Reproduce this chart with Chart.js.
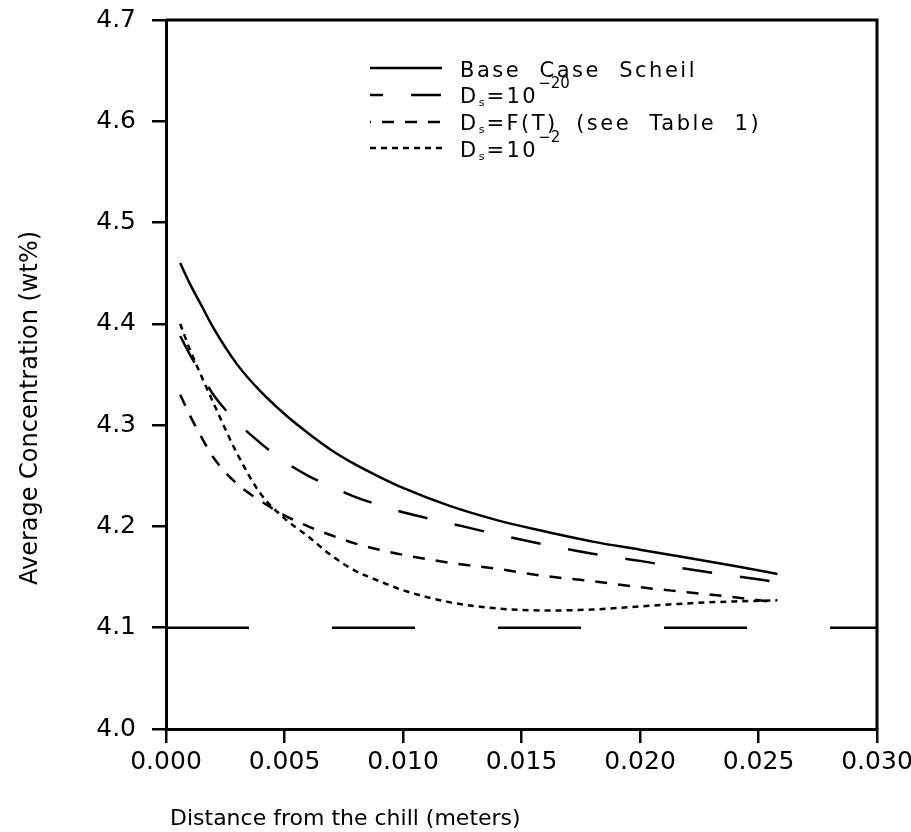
<!DOCTYPE html>
<html>
<head>
<meta charset="utf-8">
<title>Average Concentration vs Distance from the chill</title>
<script src="https://cdn.jsdelivr.net/npm/chart.js@4.4.1/dist/chart.umd.min.js"></script>
<style>
  html, body { margin: 0; padding: 0; background: #fff; }
  #chart { display: block; }
</style>
</head>
<body>
<canvas id="chart" width="911" height="832"></canvas>
<script>
// distance from the chill (meters)
const distance = [0.0006, 0.001, 0.0015, 0.002, 0.003, 0.004, 0.005, 0.006, 0.007, 0.008,
                  0.009, 0.010, 0.012, 0.014, 0.016, 0.018, 0.020, 0.022, 0.024, 0.0258];
// average concentration (wt%)
const baseCaseScheil = [4.460, 4.440, 4.418, 4.396, 4.360, 4.333, 4.311, 4.292, 4.275, 4.261,
                        4.249, 4.238, 4.220, 4.206, 4.195, 4.185, 4.177, 4.169, 4.161, 4.153];
const dsTenMinus20 = [4.388, 4.370, 4.350, 4.330, 4.303, 4.282, 4.264, 4.250, 4.239, 4.229,
                      4.221, 4.214, 4.203, 4.192, 4.182, 4.173, 4.166, 4.158, 4.151, 4.145];
const dsOfT = [4.330, 4.310, 4.288, 4.268, 4.242, 4.225, 4.211, 4.200, 4.191, 4.183,
               4.177, 4.172, 4.164, 4.158, 4.151, 4.146, 4.140, 4.135, 4.130, 4.125];
const dsTenMinus2 = [4.400, 4.375, 4.348, 4.322, 4.272, 4.232, 4.208, 4.190, 4.171, 4.156,
                     4.146, 4.137, 4.125, 4.119, 4.117, 4.118, 4.121, 4.124, 4.126, 4.127];
// nominal composition line
const nominalX = [0, 0.03];
const nominalY = [4.1, 4.1];

const xTickValues = [0, 0.005, 0.010, 0.015, 0.020, 0.025, 0.030];
const yTickValues = [4.0, 4.1, 4.2, 4.3, 4.4, 4.5, 4.6, 4.7];

const xTitle = 'Distance from the chill (meters)';
const yTitle = 'Average Concentration (wt%)';
// legend rows: pieces of text, 'sub' / 'sup' for small lowered / raised parts
const legendRows = [
  [{ t: 'Base  Case  Scheil' }],
  [{ t: 'D' }, { t: 's', sub: true }, { t: '=10' }, { t: '\u221220', sup: true }],
  [{ t: 'D' }, { t: 's', sub: true }, { t: '=F(T)  (see  Table  1)' }],
  [{ t: 'D' }, { t: 's', sub: true }, { t: '=10' }, { t: '\u22122', sup: true }]
];

const FONT = '"DejaVu Sans", "Liberation Sans", sans-serif';

function pts(xs, ys) {
  return xs.map((x, i) => ({ x: x, y: ys[i] }));
}

const seriesStyle = (dash) => ({
  borderColor: '#000',
  borderWidth: 2.5,
  borderDash: dash,
  pointRadius: 0,
  fill: false,
  cubicInterpolationMode: 'monotone'
});

const framePlugin = {
  id: 'frameAndText',
  afterDraw(chart) {
    const { ctx, chartArea: a } = chart;
    ctx.save();
    ctx.strokeStyle = '#000';
    ctx.lineWidth = 3;
    ctx.setLineDash([]);
    ctx.beginPath();
    ctx.moveTo(a.left, a.top);
    ctx.lineTo(a.right, a.top);
    ctx.lineTo(a.right, a.bottom);
    ctx.stroke();

    ctx.fillStyle = '#000';
    // x title
    ctx.font = '22px ' + FONT;
    ctx.textAlign = 'left';
    ctx.textBaseline = 'alphabetic';
    ctx.letterSpacing = '0px';
    ctx.fillText(xTitle, 170, 825);

    // y title
    ctx.save();
    ctx.font = '24px ' + FONT;
    ctx.translate(37, 408);
    ctx.rotate(-Math.PI / 2);
    ctx.textAlign = 'center';
    ctx.fillText(yTitle, 0, 0);
    ctx.restore();

    // legend
    const ds = chart.data.datasets;
    const rowLineY = [68, 95, 122, 148];
    const rowBase = [77, 103, 130, 157];
    const dashOffset = [0, 17, 11, 0];
    legendRows.forEach((row, i) => {
      ctx.save();
      ctx.lineWidth = 2.5;
      ctx.setLineDash(ds[i].borderDash || []);
      ctx.lineDashOffset = dashOffset[i];
      ctx.beginPath();
      ctx.moveTo(370, rowLineY[i]);
      ctx.lineTo(442, rowLineY[i]);
      ctx.stroke();
      ctx.restore();

      let x = 460;
      ctx.textAlign = 'left';
      row.forEach(p => {
        let size = 21, dy = 0;
        if (p.sub) { size = 11; dy = 3; }
        if (p.sup) { size = 15; dy = -15; }
        ctx.font = size + 'px ' + FONT;
        ctx.letterSpacing = p.sub || p.sup ? '0px' : '2.5px';
        ctx.fillText(p.t, x, rowBase[i] + dy);
        x += ctx.measureText(p.t).width + (p.sub ? 2 : 0);
      });
    });
    ctx.restore();
  }
};

new Chart(document.getElementById('chart'), {
  type: 'line',
  data: {
    datasets: [
      { label: 'Base Case Scheil', data: pts(distance, baseCaseScheil), ...seriesStyle([]) },
      { label: 'Ds=10^-20', data: pts(distance, dsTenMinus20), ...seriesStyle([30, 28]) },
      { label: 'Ds=F(T) (see Table 1)', data: pts(distance, dsOfT), ...seriesStyle([12, 11]) },
      { label: 'Ds=10^-2', data: pts(distance, dsTenMinus2), ...seriesStyle([6, 5]) },
      { label: 'nominal', data: pts(nominalX, nominalY), ...seriesStyle([83, 83]) }
    ]
  },
  options: {
    responsive: false,
    animation: false,
    layout: { padding: { left: 0, right: 34, top: 20, bottom: 0 } },
    plugins: {
      legend: { display: false },
      tooltip: { enabled: false }
    },
    scales: {
      x: {
        type: 'linear',
        min: 0,
        max: 0.03,
        afterBuildTicks: s => { s.ticks = xTickValues.map(v => ({ value: v })); },
        afterFit: s => { s.height = 103; s.paddingLeft = 0; s.paddingRight = 0; },
        ticks: {
          color: '#000',
          font: { family: FONT, size: 25 },
          padding: 4,
          maxRotation: 0,
          callback: v => Number(v).toFixed(3)
        },
        grid: { drawOnChartArea: false, drawTicks: true, tickLength: 14, color: '#000', lineWidth: 2.5 },
        border: { display: true, color: '#000', width: 3 }
      },
      y: {
        type: 'linear',
        min: 4.0,
        max: 4.7,
        afterBuildTicks: s => { s.ticks = yTickValues.map(v => ({ value: v })); },
        afterFit: s => { s.width = 166; s.paddingTop = 0; s.paddingBottom = 0; },
        ticks: {
          color: '#000',
          font: { family: FONT, size: 25 },
          padding: 16,
          callback: v => Number(v).toFixed(1)
        },
        grid: { drawOnChartArea: false, drawTicks: true, tickLength: 14, color: '#000', lineWidth: 2.5 },
        border: { display: true, color: '#000', width: 3 }
      }
    }
  },
  plugins: [framePlugin]
});
</script>
</body>
</html>
